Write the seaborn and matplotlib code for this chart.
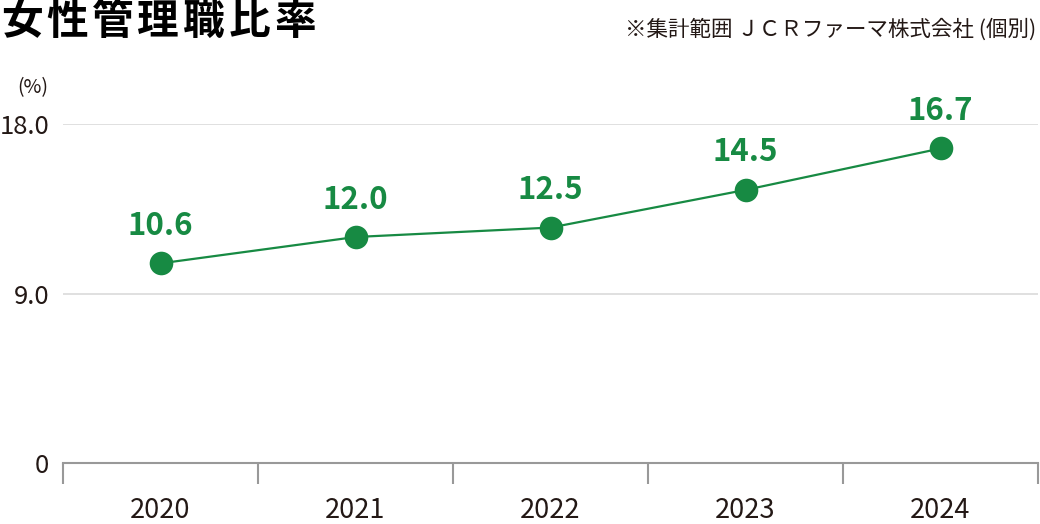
import matplotlib
matplotlib.use("Agg")
import matplotlib.pyplot as plt
import seaborn as sns
import pandas as pd
import numpy as np

years = ["2020", "2021", "2022", "2023", "2024"]
values = [10.6, 12.0, 12.5, 14.5, 16.7]
value_labels = ["10.6", "12.0", "12.5", "14.5", "16.7"]
yticks = [0, 9.0, 18.0]
ytick_labels = ["0", "9.0", "18.0"]
title = "女性管理職比率"
note = "※集計範囲 ＪＣＲファーマ株式会社 (個別)"
unit = "(%)"

sns.set_theme(style="white")
plt.rcParams['font.family'] = ['Noto Sans CJK JP', 'DejaVu Sans']

GREEN = "#178a43"
TXT = "#231815"

fig = plt.figure(figsize=(10.4, 5.24), dpi=100)
ax = fig.add_axes([63/1040, 61/524, (1038-63)/1040, (463-124)/524])

df = pd.DataFrame({"x": np.arange(len(years)), "v": values})
sns.lineplot(data=df, x="x", y="v", ax=ax, color=GREEN, linewidth=1.6,
             marker="o", markersize=17, markeredgewidth=0, clip_on=False)

for i, (v, lab) in enumerate(zip(values, value_labels)):
    ax.annotate(lab, (i, v), xytext=(0, 20.5), textcoords="offset points",
                ha="center", va="baseline", fontsize=22.5, fontweight="bold",
                color=GREEN)

ax.set_xlim(-0.5, len(years) - 0.5)
ax.set_ylim(0, 18)
ax.set_yticks(yticks)
ax.set_yticklabels(ytick_labels)
ax.set_xticks(np.arange(len(years)))
ax.set_xticklabels(years)
ax.set_xticks(np.arange(len(years) + 1) - 0.5, minor=True)
ax.tick_params(axis="x", which="major", bottom=True, length=0, pad=24.5,
               labelsize=19.5, labelcolor=TXT)
ax.tick_params(axis="x", which="minor", bottom=True, length=15, width=1.5,
               color="#999999", direction="out")
ax.tick_params(axis="y", length=0, pad=10, labelsize=18.5, labelcolor=TXT)
ax.set_xlabel("")
ax.set_ylabel("")

for yv in [9.0, 18.0]:
    ax.axhline(yv, color="#dddddd", linewidth=1.3, zorder=0)

for s in ["top", "right", "left"]:
    ax.spines[s].set_visible(False)
ax.spines["bottom"].set_color("#999999")
ax.spines["bottom"].set_linewidth(1.5)

# title with wide letter spacing, one character per text
for k, ch in enumerate(title):
    fig.text((1 + 45.5 * k) / 1040, 1 - 1/524, ch, ha="left", va="top",
             fontsize=30, fontweight="bold", color="black")
fig.text(1036/1040, 1 - 36/524, note, ha="right", va="baseline", fontsize=15.5,
         color=TXT)
fig.text(33/1040, 1 - 93/524, unit, ha="center", va="baseline", fontsize=14,
         color=TXT)

fig.savefig("out.png", dpi=100)
